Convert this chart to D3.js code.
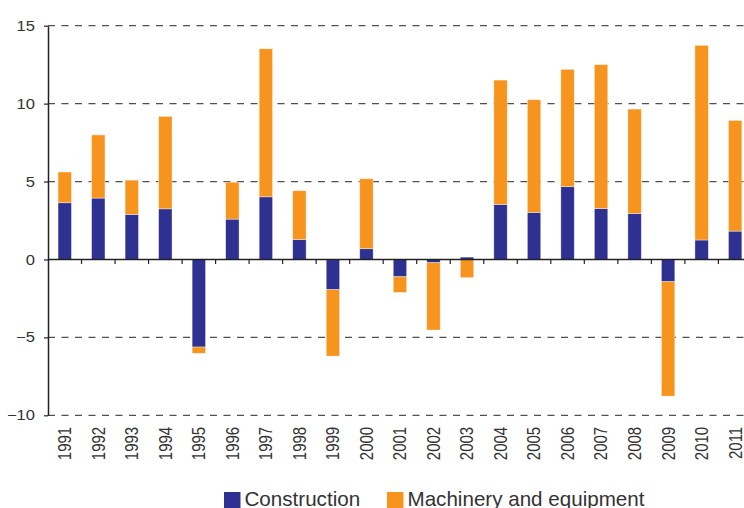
<!DOCTYPE html>
<html>
<head>
<meta charset="utf-8">
<script src="https://cdn.jsdelivr.net/npm/d3@7"></script>
<style>
  body { margin: 0; background: #fff; }
  svg { display: block; font-family: "Liberation Sans", Arial, sans-serif; }
</style>
</head>
<body>
<div id="chart"></div>
<script>
// data (annual contributions, percentage points)
var years = ['1991','1992','1993','1994','1995','1996','1997','1998','1999','2000','2001',
             '2002','2003','2004','2005','2006','2007','2008','2009','2010','2011']
var construction = [3.64, 3.94, 2.89, 3.25, -5.62, 2.59, 4.02, 1.28, -1.94, 0.69, -1.11,
                    -0.21, 0.15, 3.53, 3.02, 4.67, 3.27, 2.95, -1.43, 1.25, 1.82]
var machinery = [1.97, 4.05, 2.2, 5.93, -0.4, 2.37, 9.5, 3.13, -4.26, 4.49, -1.01,
                 -4.32, -1.17, 7.98, 7.23, 7.53, 9.23, 6.7, -7.34, 12.49, 7.1]
var yTicks = [-10, -5, 0, 5, 10, 15]
var seriesNames = ['Construction', 'Machinery and equipment']
var colors = ['#2e3192', '#f7941e']

var svgWidth = 744
var svgHeight = 508

var margin = { top: 25.7, left: 48, bottom: 92.7 }
var plotRight = 48 + 21 * 33.52   // plot runs past the right edge of the picture

var rows = years.map(function (y, i) {
    return { year: y, construction: construction[i], machinery: machinery[i] }
})

var svg = d3.select('#chart')
    .append('svg')
    .attr('width', svgWidth)
    .attr('height', svgHeight)

var xScale = d3.scaleBand()
    .domain(years)
    .range([margin.left, plotRight])
    .paddingInner(0.6)
    .paddingOuter(0.3)

var yScale = d3.scaleLinear()
    .domain([-10, 15])
    .range([svgHeight - margin.bottom, margin.top])

// dashed gridlines
svg.append('g')
    .selectAll('line')
    .data(yTicks.filter(function (d) { return d !== 0 }))
    .enter()
    .append('line')
    .attr('x1', margin.left)
    .attr('x2', plotRight)
    .attr('y1', function (d) { return yScale(d) })
    .attr('y2', function (d) { return yScale(d) })
    .attr('stroke', '#505050')
    .attr('stroke-width', 1.3)
    .attr('stroke-dasharray', '7,6.5')

// stacked bars
var stacked = d3.stack()
    .keys(['construction', 'machinery'])
    .offset(d3.stackOffsetDiverging)(rows)

svg.append('g')
    .selectAll('g')
    .data(stacked)
    .enter()
    .append('g')
    .attr('fill', function (d, i) { return colors[i] })
    .selectAll('rect')
    .data(function (d) { return d })
    .enter()
    .append('rect')
    .attr('x', function (d) { return xScale(d.data.year) })
    .attr('width', xScale.bandwidth())
    .attr('y', function (d) { return yScale(Math.max(d[0], d[1])) })
    .attr('height', function (d) { return Math.abs(yScale(d[0]) - yScale(d[1])) })
    .attr('stroke', 'rgba(255,255,255,0.55)')
    .attr('stroke-width', 0.7)

// y axis
var leftAxis = d3.axisLeft(yScale)
    .tickValues(yTicks)
    .tickSize(4)
    .tickPadding(9)
    .tickSizeOuter(0)

var yAxisG = svg.append('g')
    .attr('transform', `translate(${margin.left},0)`)
    .call(leftAxis)
yAxisG.select('.domain').attr('stroke', '#222').attr('stroke-width', 1.5)
yAxisG.selectAll('.tick line').attr('stroke', '#222').attr('stroke-width', 1.2)
// labels in the source are a little wider than plain Arial, stretch them
yAxisG.selectAll('.tick text')
    .attr('fill', '#333')
    .attr('x', null)
    .attr('transform', 'translate(-13,0) scale(1.15,1)')
    .style('font-size', '14.4px')
    .style('font-family', '"Liberation Sans", Arial, sans-serif')

// zero line with small ticks between the bars
var boundaries = years.slice(1).map(function (y) { return xScale(y) - xScale.step() * xScale.paddingInner() / 2 })

svg.append('line')
    .attr('x1', margin.left)
    .attr('x2', plotRight)
    .attr('y1', yScale(0))
    .attr('y2', yScale(0))
    .attr('stroke', '#222')
    .attr('stroke-width', 1.5)

svg.append('g')
    .selectAll('line')
    .data(boundaries)
    .enter()
    .append('line')
    .attr('x1', function (d) { return d })
    .attr('x2', function (d) { return d })
    .attr('y1', yScale(0))
    .attr('y2', yScale(0) + 4.5)
    .attr('stroke', '#222')
    .attr('stroke-width', 1.2)

// year labels, rotated (glyphs stretched across like in the source)
svg.append('g')
    .selectAll('text')
    .data(years)
    .enter()
    .append('text')
    .attr('transform', function (d) {
        return `translate(${xScale(d) + xScale.bandwidth() / 2},${svgHeight - margin.bottom + 11.5}) scale(1.22,1) rotate(-90)`
    })
    .attr('dy', '0.35em')
    .attr('text-anchor', 'end')
    .attr('fill', '#333')
    .style('font-size', '15px')
    .text(function (d) { return d })

// legend
var legendItems = [
    { name: seriesNames[0], color: colors[0], x: 224 },
    { name: seriesNames[1], color: colors[1], x: 387 }
]
var legend = svg.append('g')
legend.selectAll('rect')
    .data(legendItems)
    .enter()
    .append('rect')
    .attr('x', function (d) { return d.x })
    .attr('y', 492)
    .attr('width', 16.5)
    .attr('height', 16)
    .attr('fill', function (d) { return d.color })
legend.selectAll('text')
    .data(legendItems)
    .enter()
    .append('text')
    .attr('x', function (d) { return d.x + 20.5 })
    .attr('y', 506)
    .attr('fill', '#333')
    .style('font-size', '20.6px')
    .text(function (d) { return d.name })
</script>
</body>
</html>
